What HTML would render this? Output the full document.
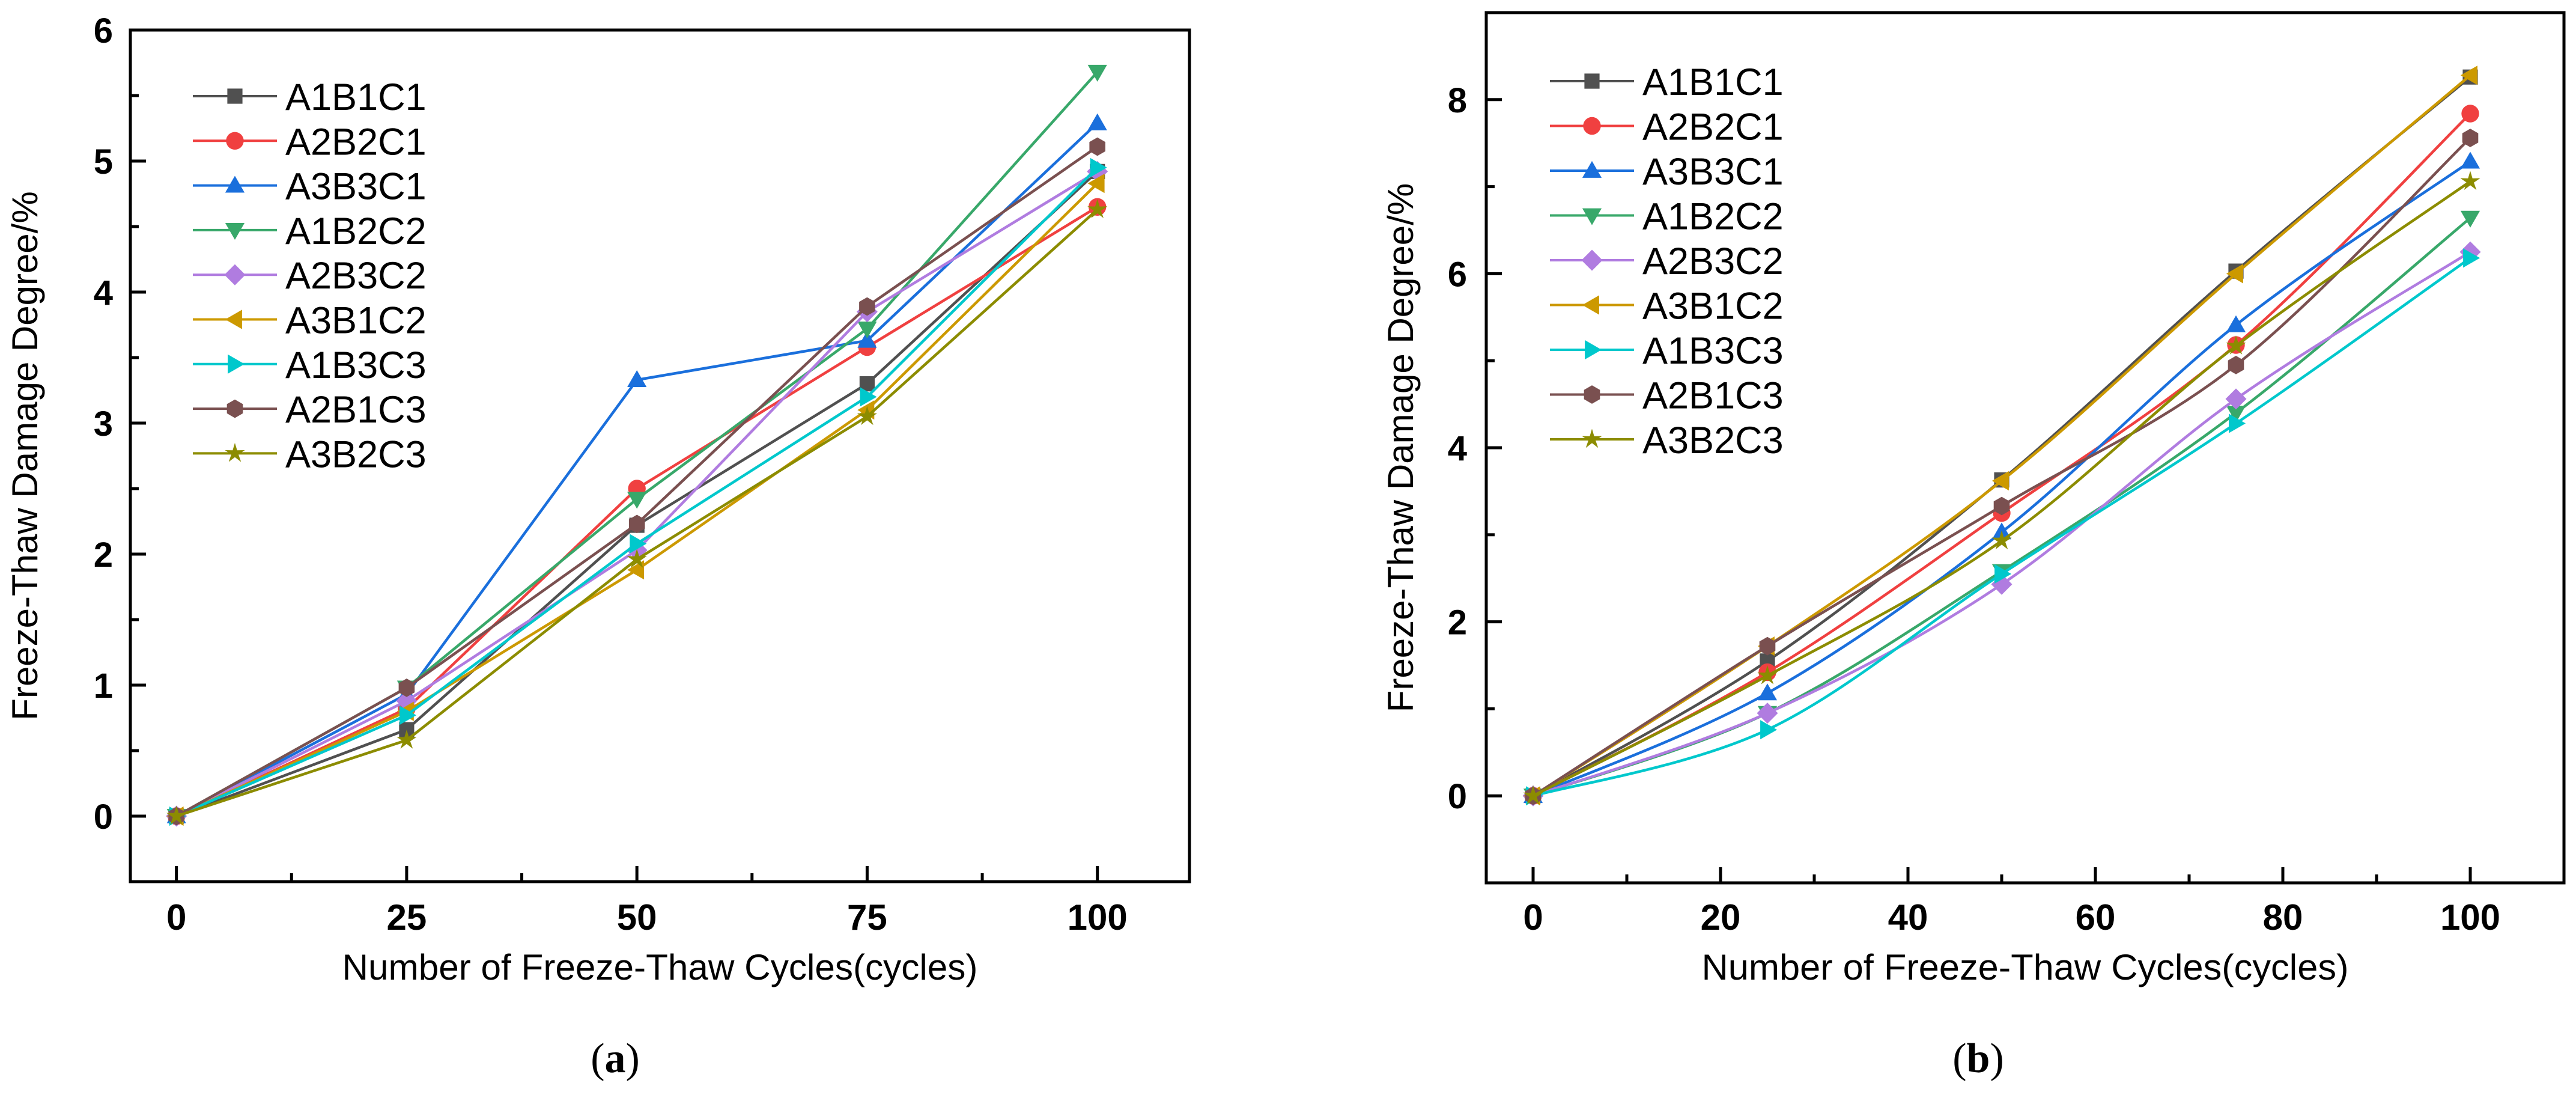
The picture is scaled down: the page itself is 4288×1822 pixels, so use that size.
<!DOCTYPE html>
<html><head><meta charset="utf-8">
<style>
html,body{margin:0;padding:0;background:#fff;}
svg{display:block;}
text{font-family:"Liberation Sans",Arial,sans-serif;}
</style></head>
<body>
<svg id="fig" width="4288" height="1822" viewBox="0 0 4288 1822" xmlns="http://www.w3.org/2000/svg">
<rect x="0" y="0" width="4288" height="1822" fill="#fff"/>
<g id="chartA"></g>
<g id="chartB"></g>
<text x="1024" y="1784" text-anchor="middle" font-size="70" style="font-family:'Liberation Serif',serif">(<tspan font-weight="bold">a</tspan>)</text>
<text x="3293" y="1784" text-anchor="middle" font-size="70" style="font-family:'Liberation Serif',serif">(<tspan font-weight="bold">b</tspan>)</text>
</svg>
<script>
const seriesNames = ["A1B1C1","A2B2C1","A3B3C1","A1B2C2","A2B3C2","A3B1C2","A1B3C3","A2B1C3","A3B2C3"];
const xCycles = [0,25,50,75,100];
const xTicksA = [0,25,50,75,100];
const yTicksA = [0,1,2,3,4,5,6];
const xTicksB = [0,20,40,60,80,100];
const yTicksB = [0,2,4,6,8];
const valuesA_A1B1C1 = [0,0.66,2.22,3.30,4.92];
const valuesA_A2B2C1 = [0,0.82,2.50,3.58,4.65];
const valuesA_A3B3C1 = [0,0.93,3.33,3.63,5.29];
const valuesA_A1B2C2 = [0,0.98,2.42,3.72,5.68];
const valuesA_A2B3C2 = [0,0.88,2.03,3.85,4.92];
const valuesA_A3B1C2 = [0,0.80,1.88,3.10,4.83];
const valuesA_A1B3C3 = [0,0.77,2.08,3.20,4.95];
const valuesA_A2B1C3 = [0,0.98,2.23,3.89,5.11];
const valuesA_A3B2C3 = [0,0.58,1.96,3.05,4.63];
const valuesB_A1B1C1 = [0,1.55,3.63,6.03,8.26];
const valuesB_A2B2C1 = [0,1.42,3.25,5.18,7.84];
const valuesB_A3B3C1 = [0,1.18,3.03,5.41,7.29];
const valuesB_A1B2C2 = [0,0.95,2.58,4.40,6.64];
const valuesB_A2B3C2 = [0,0.95,2.43,4.56,6.25];
const valuesB_A3B1C2 = [0,1.72,3.62,6.00,8.28];
const valuesB_A1B3C3 = [0,0.76,2.55,4.28,6.18];
const valuesB_A2B1C3 = [0,1.72,3.33,4.95,7.56];
const valuesB_A3B2C3 = [0,1.38,2.93,5.17,7.06];

const dataA = [valuesA_A1B1C1,valuesA_A2B2C1,valuesA_A3B3C1,valuesA_A1B2C2,valuesA_A2B3C2,valuesA_A3B1C2,valuesA_A1B3C3,valuesA_A2B1C3,valuesA_A3B2C3];
const dataB = [valuesB_A1B1C1,valuesB_A2B2C1,valuesB_A3B3C1,valuesB_A1B2C2,valuesB_A2B3C2,valuesB_A3B1C2,valuesB_A1B3C3,valuesB_A2B1C3,valuesB_A3B2C3];
const colors = ["#505050","#f04040","#1a6fdc","#38a86a","#b07ce0","#cc9900","#00c8cc","#7a5050","#8c8c00"];
const shapes = ["square","circle","up","down","diamond","left","right","hex","star"];
const NS = "http://www.w3.org/2000/svg";

function mk(tag, attrs, parent){
  const e = document.createElementNS(NS, tag);
  for (const k in attrs) e.setAttribute(k, attrs[k]);
  parent.appendChild(e);
  return e;
}
function markerPath(shape, cx, cy, s){
  let pts = [];
  if (shape==="square") pts=[[-s,-s],[s,-s],[s,s],[-s,s]].map(p=>[p[0]*0.9,p[1]*0.9]);
  else if (shape==="up") pts=[[0,-s*1.15],[s*1.15,s*0.85],[-s*1.15,s*0.85]];
  else if (shape==="down") pts=[[0,s*1.15],[s*1.15,-s*0.85],[-s*1.15,-s*0.85]];
  else if (shape==="left") pts=[[-s*1.15,0],[s*0.85,-s*1.15],[s*0.85,s*1.15]];
  else if (shape==="right") pts=[[s*1.15,0],[-s*0.85,-s*1.15],[-s*0.85,s*1.15]];
  else if (shape==="diamond") pts=[[0,-s*1.25],[s*1.25,0],[0,s*1.25],[-s*1.25,0]];
  else if (shape==="hex") { for(let i=0;i<6;i++){const a=Math.PI/6+i*Math.PI/3; pts.push([Math.cos(a)*s*1.1,Math.sin(a)*s*1.1]);} }
  else if (shape==="star") { for(let i=0;i<10;i++){const a=-Math.PI/2+i*Math.PI/5; const r=(i%2?0.45:1.25)*s; pts.push([Math.cos(a)*r,Math.sin(a)*r]);} }
  return "M"+pts.map(p=>(cx+p[0]).toFixed(1)+","+(cy+p[1]).toFixed(1)).join("L")+"Z";
}
function drawMarker(g, shape, cx, cy, s, color){
  if (shape==="circle") return mk("circle",{cx:cx,cy:cy,r:s*1.05,fill:color},g);
  return mk("path",{d:markerPath(shape,cx,cy,s),fill:color},g);
}
function smoothPath(pts){
  let d = "M"+pts[0][0]+","+pts[0][1];
  for (let i=0;i<pts.length-1;i++){
    const p0=pts[Math.max(i-1,0)], p1=pts[i], p2=pts[i+1], p3=pts[Math.min(i+2,pts.length-1)];
    const c1=[p1[0]+(p2[0]-p0[0])/6, p1[1]+(p2[1]-p0[1])/6];
    const c2=[p2[0]-(p3[0]-p1[0])/6, p2[1]-(p3[1]-p1[1])/6];
    d += "C"+c1.join(",")+" "+c2.join(",")+" "+p2.join(",");
  }
  return d;
}

function drawChart(g, cfg){
  const X = v => cfg.x0px + (v - cfg.xmin)/(cfg.xmax-cfg.xmin)*(cfg.x1px-cfg.x0px);
  const Y = v => cfg.y0px - (v - cfg.ymin)/(cfg.ymax-cfg.ymin)*(cfg.y0px-cfg.y1px);
  const L=cfg.x0px, R=cfg.x1px, T=cfg.y1px, B=cfg.y0px;
  const tg = mk("g",{},g);
  
  
  cfg.xTicks.forEach((v,i)=>{
    const x = X(v);
    mk("line",{x1:x,y1:B,x2:x,y2:B-26,stroke:"#000","stroke-width":5},tg);
    const t = mk("text",{x:x,y:1547,"text-anchor":"middle","font-size":60,"font-weight":"bold"},tg);
    t.textContent = String(v);
    
    
    if (i<cfg.xTicks.length-1){
      const xm = X((v+cfg.xTicks[i+1])/2);
      mk("line",{x1:xm,y1:B,x2:xm,y2:B-14,stroke:"#000","stroke-width":5},tg);
    }
  });
  cfg.yTicks.forEach((v,i)=>{
    const y = Y(v);
    mk("line",{x1:L,y1:y,x2:L+26,y2:y,stroke:"#000","stroke-width":5},tg);
    const t = mk("text",{x:cfg.ylabX,y:y+21,"text-anchor":"end","font-size":58,"font-weight":"bold"},tg);
    t.textContent = String(v);
    
    
    const vm = (i<cfg.yTicks.length-1)?(v+cfg.yTicks[i+1])/2:null;
    if (vm!==null) { const ym=Y(vm); mk("line",{x1:L,y1:ym,x2:L+14,y2:ym,stroke:"#000","stroke-width":5},tg); }
  });
  cfg.data.forEach((vals,si)=>{
    const sg = mk("g",{},g);
    
    
    const pts = xCycles.map((xv,k)=>[+X(xv).toFixed(1), +Y(vals[k]).toFixed(1)]);
    const d = cfg.smooth ? smoothPath(pts) : "M"+pts.map(p=>p.join(",")).join("L");
    const ln = mk("path",{d:d,fill:"none",stroke:colors[si],"stroke-width":4.5,"stroke-linejoin":"round"},sg);
    
    
    pts.forEach(p=>{
      const m = drawMarker(sg, shapes[si], p[0], p[1], 14, colors[si]);
      
      
    });
  });
  const fr = mk("rect",{x:L,y:T,width:R-L,height:B-T,fill:"none",stroke:"#000","stroke-width":5},g);
  
  
  const lg = mk("g",{},g);
  
  
  seriesNames.forEach((n,si)=>{
    const y = cfg.legY + si*cfg.legStep;
    const e = mk("g",{},lg);
    
    
    mk("line",{x1:cfg.legX,y1:y,x2:cfg.legX+140,y2:y,stroke:colors[si],"stroke-width":4},e);
    drawMarker(e, shapes[si], cfg.legX+70, y, 14, colors[si]);
    const t = mk("text",{x:cfg.legX+154,y:y+23,"font-size":63},e);
    t.textContent = n;
  });
  const xt = mk("text",{x:(L+R)/2,y:1630,"text-anchor":"middle","font-size":60,textLength:cfg.xTitleLen,lengthAdjust:"spacingAndGlyphs"},g);
  xt.textContent = "Number of Freeze-Thaw Cycles(cycles)";
  
  
  const cy = (T+B)/2;
  const yt = mk("text",{x:cfg.yTitleX,y:cy,"text-anchor":"middle","font-size":60,transform:"rotate(-90 "+cfg.yTitleX+" "+cy+")"},g);
  yt.textContent = "Freeze-Thaw Damage Degree/%";
  
  
}

drawChart(document.getElementById("chartA"),{
  x0px:217,x1px:1980,xmin:-5,xmax:110,y0px:1467,y1px:50,ymin:-0.5,ymax:6,
  xTicks:xTicksA,yTicks:yTicksA,data:dataA,smooth:false,ylabX:188,
  legX:321,legY:160,legStep:74.3,xTitleLen:1058,yTitleX:62
});
drawChart(document.getElementById("chartB"),{
  x0px:2474,x1px:4268,xmin:-5,xmax:110,y0px:1469,y1px:21,ymin:-1,ymax:9,
  xTicks:xTicksB,yTicks:yTicksB,data:dataB,smooth:true,ylabX:2442,
  legX:2580,legY:135,legStep:74.5,xTitleLen:1077,yTitleX:2352
});
</script>
</body></html>
